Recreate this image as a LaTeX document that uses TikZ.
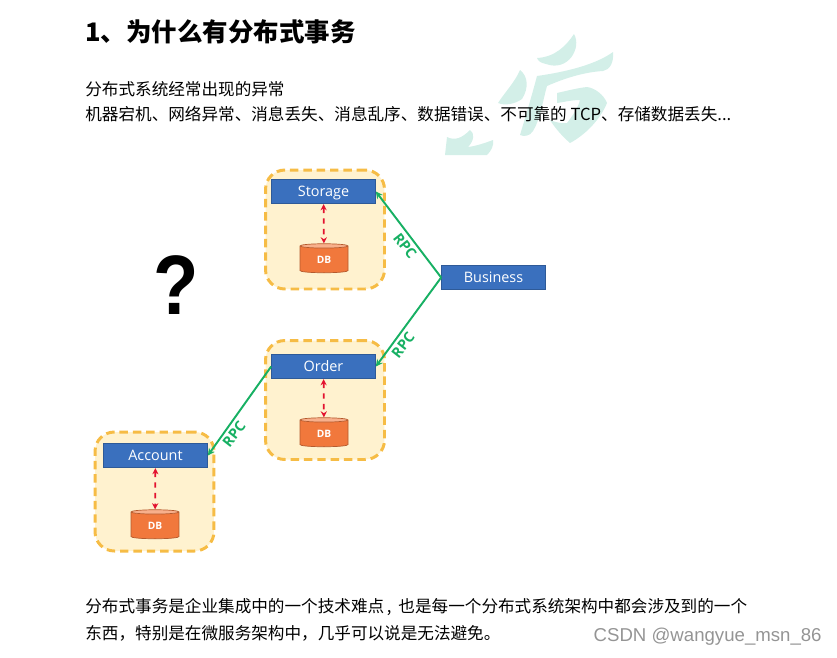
\documentclass[tikz,border=0pt]{standalone}
\usepackage{fontspec}
\setsansfont{Open Sans}
\newfontfamily\cjk{Noto Sans CJK SC}
\newfontfamily\qfont{Liberation Sans}
\usetikzlibrary{arrows.meta,shapes.geometric}
\definecolor{wmteal}{HTML}{D3EFE8}
\definecolor{grpfill}{HTML}{FFF2CF}
\definecolor{grpline}{HTML}{F6BC45}
\definecolor{svcblue}{HTML}{3A70BE}
\definecolor{dborange}{HTML}{F1783C}
\definecolor{dbtop}{HTML}{F8B08C}
\definecolor{rpcgreen}{HTML}{17B063}
\definecolor{linkred}{HTML}{E3122F}
\tikzset{
  x=.02cm,y=-.02cm,
  para/.style={anchor=west,inner sep=0,font=\cjk\fontsize{9.45}{11}\selectfont},
  grpbox/.style={draw=grpline,fill=grpfill,line width=1.7pt,dash pattern=on 4.8pt off 2.8pt,rounded corners=11pt,minimum width=2.38cm,minimum height=2.38cm},
  svcbox/.style={draw=svcblue!80!black,fill=svcblue,line width=.4pt,text=white,font=\sffamily\fontsize{8.2}{10}\selectfont,minimum width=2.08cm,minimum height=.49cm,inner sep=0,text height=.24cm,text depth=.04cm},
  dbcyl/.style={cylinder,shape border rotate=90,aspect=.3,draw=dborange!75!black,line width=.4pt,cylinder uses custom fill,cylinder body fill=dborange,cylinder end fill=dbtop,text=white,font=\sffamily\bfseries\fontsize{5.8}{7}\selectfont,minimum width=.96cm,minimum height=.58cm,inner sep=0},
  rpcline/.style={draw=rpcgreen,line width=1.1pt,-{Stealth[length=4pt,width=4pt]}},
  dblink/.style={draw=linkred,line width=1pt,dashed,{Stealth[length=3.5pt,width=3.5pt]}-{Stealth[length=3.5pt,width=3.5pt]}},
  rpclabel/.style={text=rpcgreen,font=\sffamily\bfseries\fontsize{8.2}{10}\selectfont,inner sep=0}
}
\begin{document}
\begin{tikzpicture}
\useasboundingbox(0,0)rectangle(837,657);
\fill[wmteal](537,58)..controls(555,57)and(566,46)..(574,34)..controls(582,48)and(568,72)..(546,64)..controls(541,63)and(538,61)..(537,58)--cycle;
\fill[wmteal](537,76)..controls(565,72)and(595,65)..(613,52)..controls(614,62)and(610,70)..(603,71)..controls(585,72)and(565,78)..(547,86)..controls(543,100)and(540,120)..(533,131)..controls(530,136)and(524,137)..(520,135)..controls(526,115)and(532,95)..(537,76)--cycle;
\fill[wmteal](520,70)..controls(528,76)and(529,88)..(522,99)..controls(515,104)and(505,106)..(498,103)..controls(505,92)and(515,82)..(520,70)--cycle;
\fill[wmteal](557,93)..controls(570,90)and(578,88)..(587,87)..controls(595,88)and(604,95)..(607,103)..controls(600,120)and(585,135)..(570,143)..controls(562,136)and(555,128)..(550,120)..controls(555,122)and(562,124)..(567,123)..controls(573,115)and(578,108)..(580,100)..controls(572,100)and(564,102)..(557,103)--cycle;
\fill[wmteal](447,137)..controls(455,141)and(462,138)..(470,130)..controls(475,133)and(474,141)..(468,147)..controls(476,146)and(485,143)..(493,140)..controls(494,146)and(491,151)..(487,155)--(445,155)--cycle;
\node[anchor=west,inner sep=0,font=\cjk\bfseries\fontsize{14.5}{17}\selectfont](title)at(85,32){1、为什么有分布式事务};
\node[para](lead)at(85,89){分布式系统经常出现的异常};
\node[para](faults)at(85,114){机器宕机、网络异常、消息丢失、消息乱序、数据错误、不可靠的 TCP、存储数据丢失...};
\node[para](tail1)at(85,607){分布式事务是企业集成中的一个技术难点\hspace{1.5pt},\hspace{4pt}也是每一个分布式系统架构中都会涉及到的一个};
\node[para](tail2)at(85,633){东西，特别是在微服务架构中，几乎可以说是无法避免。};
\node[anchor=east,inner sep=0,text=black!42,font=\qfont\fontsize{10.6}{13}\selectfont](mark)at(822,637){CSDN @wangyue\_msn\_86};
\node[inner sep=0,xscale=.88,font=\qfont\bfseries\fontsize{48}{48}\selectfont](ask)at(176.5,285){?};
\node[grpbox](stog)at(325,229.5){};
\node[grpbox](ordg)at(325,400){};
\node[grpbox](accg)at(154.5,491.5){};
\node[svcbox](sto)at(323.5,191.5){Storage};
\node[svcbox](ord)at(323.5,366.5){Order};
\node[svcbox](acc)at(155.5,455.5){Account};
\node[svcbox](biz)at(493.5,277.5){Business};
\node[dbcyl](stodb)at(324,259.5){DB};
\node[dbcyl](orddb)at(324,433.5){DB};
\node[dbcyl](accdb)at(155,525.5){DB};
\draw[dblink](sto)--(stodb);\draw[dblink](ord)--(orddb);\draw[dblink](acc)--(accdb);
\draw[rpcline](biz.west)--(sto.east);\draw[rpcline](biz.west)--(ord.east);\draw[rpcline](ord.west)--(acc.east);
\node[rpclabel,rotate=-52](rpca)at(405,246){RPC};\node[rpclabel,rotate=52](rpcb)at(403,345){RPC};\node[rpclabel,rotate=52](rpcc)at(234,434){RPC};
\end{tikzpicture}
\end{document}
